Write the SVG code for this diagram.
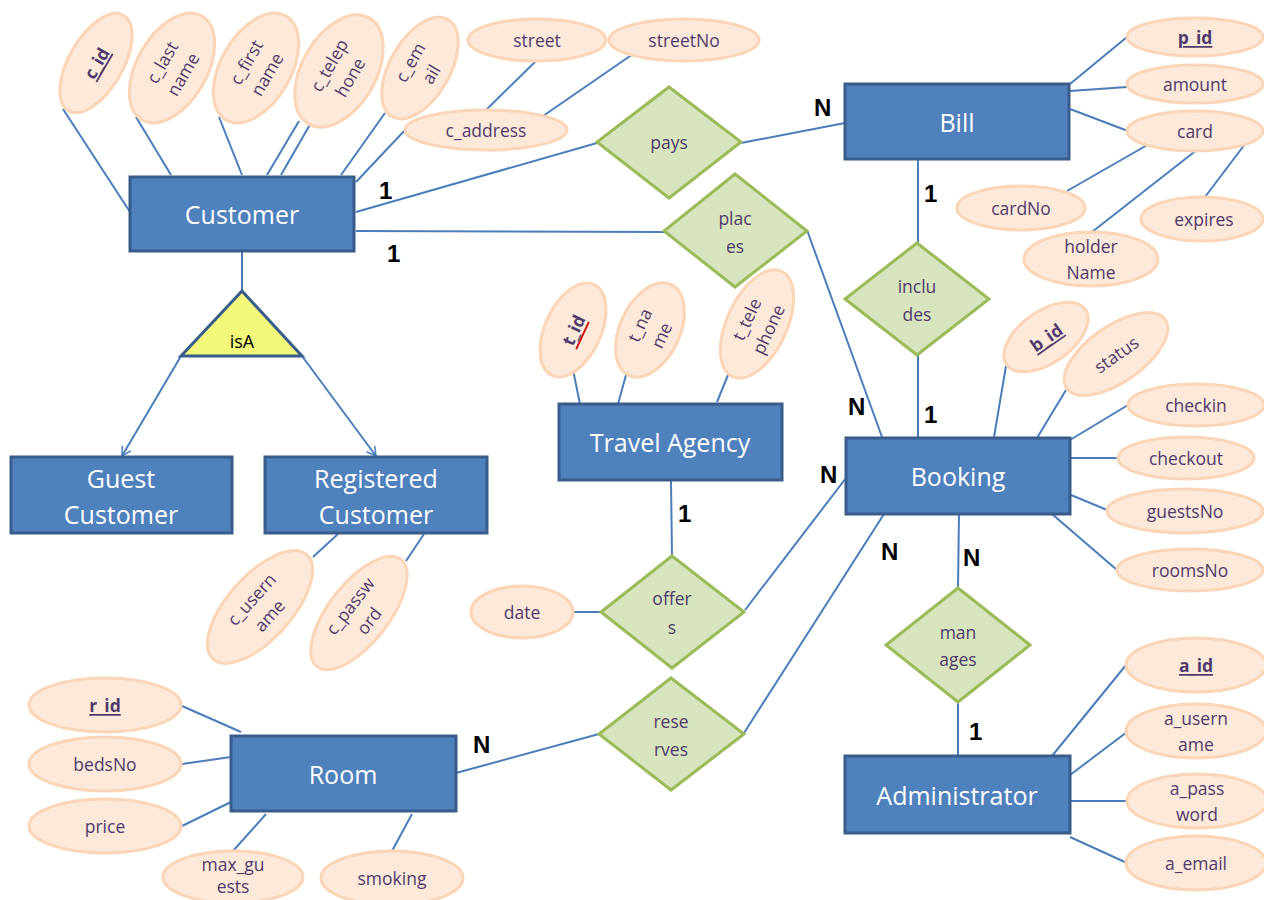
<svg xmlns="http://www.w3.org/2000/svg" width="1264" height="900" viewBox="0 0 1264 900">
<defs>
<style>
.ent{fill:#4F81BD;stroke:#385D8A;stroke-width:3}
.etx{fill:#fff;font-family:"Open Sans","Liberation Sans",sans-serif;font-size:25px;text-anchor:middle;dominant-baseline:central}
.rel{fill:#D7E4BD;stroke:#9BBB59;stroke-width:3}
.att{fill:#FDE9D9;stroke:#FBD5B5;stroke-width:3}
.atx{fill:#4F3B6B;font-family:"Open Sans","Liberation Sans",sans-serif;font-size:17.5px;text-anchor:middle;dominant-baseline:central}
.key{font-weight:bold;text-decoration:underline}
.ln{stroke:#4A7EBB;stroke-width:2;fill:none}
.card{fill:#000;font-family:"Liberation Sans",Arial,sans-serif;font-size:24px;font-weight:bold}
</style>
<marker id="arr" markerWidth="12" markerHeight="12" refX="10" refY="6" orient="auto" markerUnits="userSpaceOnUse">
<path d="M1,1 L10,6 L1,11" fill="none" stroke="#4A7EBB" stroke-width="1.5"/>
</marker>
</defs>
<rect width="1264" height="900" fill="#fff"/>

<g id="connectors">
<line class="ln" x1="63" y1="109" x2="130" y2="212"/>
<line class="ln" x1="136" y1="117" x2="171" y2="175"/>
<line class="ln" x1="219" y1="117" x2="242" y2="175"/>
<line class="ln" x1="299" y1="121" x2="267" y2="175"/>
<line class="ln" x1="312" y1="121" x2="281" y2="175"/>
<line class="ln" x1="385" y1="113" x2="341" y2="175"/>
<line class="ln" x1="406" y1="129" x2="356" y2="182"/>
<line class="ln" x1="537" y1="60" x2="486" y2="110"/>
<line class="ln" x1="633" y1="54" x2="543" y2="116"/>
<line class="ln" x1="356" y1="212" x2="597" y2="143"/>
<line class="ln" x1="741" y1="143" x2="845" y2="123"/>
<line class="ln" x1="356" y1="231" x2="664" y2="232"/>
<line class="ln" x1="807" y1="230" x2="882" y2="437"/>
<line class="ln" x1="918" y1="160" x2="918" y2="243"/>
<line class="ln" x1="918" y1="355" x2="918" y2="437"/>
<line class="ln" x1="242" y1="251" x2="242" y2="291"/>
<line class="ln" x1="181" y1="356" x2="122" y2="456" marker-end="url(#arr)"/>
<line class="ln" x1="302" y1="356" x2="376" y2="456" marker-end="url(#arr)"/>
<line class="ln" x1="338" y1="534" x2="313" y2="557"/>
<line class="ln" x1="424" y1="534" x2="406" y2="561"/>
<line class="ln" x1="573" y1="370" x2="580" y2="404"/>
<line class="ln" x1="626" y1="375" x2="618" y2="404"/>
<line class="ln" x1="728" y1="375" x2="717" y2="402"/>
<line class="ln" x1="671" y1="481" x2="672" y2="556"/>
<line class="ln" x1="573" y1="612" x2="601" y2="612"/>
<line class="ln" x1="745" y1="610" x2="846" y2="478"/>
<line class="ln" x1="744" y1="733" x2="884" y2="514"/>
<line class="ln" x1="456" y1="773" x2="599" y2="734"/>
<line class="ln" x1="959" y1="514" x2="958" y2="588"/>
<line class="ln" x1="958" y1="702" x2="958" y2="756"/>
<line class="ln" x1="1070" y1="84" x2="1127" y2="37"/>
<line class="ln" x1="1070" y1="91" x2="1127" y2="87"/>
<line class="ln" x1="1070" y1="109" x2="1128" y2="131"/>
<line class="ln" x1="1149" y1="144" x2="1067" y2="191"/>
<line class="ln" x1="1198" y1="149" x2="1092" y2="232"/>
<line class="ln" x1="1245" y1="144" x2="1205" y2="197"/>
<line class="ln" x1="1006" y1="366" x2="994" y2="437"/>
<line class="ln" x1="1066" y1="390" x2="1037" y2="438"/>
<line class="ln" x1="1128" y1="405" x2="1070" y2="440"/>
<line class="ln" x1="1117" y1="458" x2="1071" y2="458"/>
<line class="ln" x1="1107" y1="510" x2="1071" y2="495"/>
<line class="ln" x1="1117" y1="570" x2="1052" y2="514"/>
<line class="ln" x1="182" y1="706" x2="241" y2="732"/>
<line class="ln" x1="182" y1="764" x2="231" y2="757"/>
<line class="ln" x1="182" y1="826" x2="231" y2="802"/>
<line class="ln" x1="233" y1="851" x2="266" y2="814"/>
<line class="ln" x1="392" y1="851" x2="412" y2="814"/>
<line class="ln" x1="1052" y1="756" x2="1126" y2="665"/>
<line class="ln" x1="1070" y1="775" x2="1127" y2="732"/>
<line class="ln" x1="1070" y1="801" x2="1128" y2="801"/>
<line class="ln" x1="1070" y1="837" x2="1127" y2="863"/>
</g>

<g id="cardinalities">
<text class="card" x="379" y="199">1</text>
<text class="card" x="387" y="262">1</text>
<text class="card" x="814" y="116">N</text>
<text class="card" x="924" y="202">1</text>
<text class="card" x="924" y="423">1</text>
<text class="card" x="848" y="415">N</text>
<text class="card" x="820" y="483">N</text>
<text class="card" x="678" y="522">1</text>
<text class="card" x="881" y="560">N</text>
<text class="card" x="963" y="566">N</text>
<text class="card" x="473" y="753">N</text>
<text class="card" x="969" y="740">1</text>
</g>

<g id="customer"><rect class="ent" x="130" y="177" width="224" height="74"/><text class="etx" x="242" y="214">Customer</text></g>
<g id="bill"><rect class="ent" x="845" y="84" width="224" height="75"/><text class="etx" x="957" y="122">Bill</text></g>
<g id="guest-customer"><rect class="ent" x="11" y="457" width="221" height="76"/><text class="etx" x="121" y="478">Guest</text><text class="etx" x="121" y="514">Customer</text></g>
<g id="registered-customer"><rect class="ent" x="265" y="457" width="222" height="76"/><text class="etx" x="376" y="478">Registered</text><text class="etx" x="376" y="514">Customer</text></g>
<g id="travel-agency"><rect class="ent" x="559" y="404" width="223" height="76"/><text class="etx" x="670" y="442">Travel Agency</text></g>
<g id="booking"><rect class="ent" x="846" y="438" width="224" height="76"/><text class="etx" x="958" y="476">Booking</text></g>
<g id="room"><rect class="ent" x="231" y="736" width="225" height="75"/><text class="etx" x="343" y="774">Room</text></g>
<g id="administrator"><rect class="ent" x="845" y="756" width="225" height="77"/><text class="etx" x="957" y="795">Administrator</text></g>

<g id="isA"><polygon points="242,291 302,356 181,356" fill="#F2F97A" stroke="#385D8A" stroke-width="3"/><text x="242" y="341" font-family="Open Sans, Liberation Sans, sans-serif" font-size="18" text-anchor="middle" dominant-baseline="central" fill="#000">isA</text></g>

<g id="pays"><polygon class="rel" points="669,87 741,142 669,198 597,142"/><text class="atx" x="669" y="142">pays</text></g>
<g id="places"><polygon class="rel" points="735,174 807,231 735,287 664,231"/><text class="atx" x="735" y="218">plac</text><text class="atx" x="735" y="246">es</text></g>
<g id="includes"><polygon class="rel" points="917,243 989,299 917,355 845,299"/><text class="atx" x="917" y="286">inclu</text><text class="atx" x="917" y="314">des</text></g>
<g id="offers"><polygon class="rel" points="672,556 744,612 672,668 601,612"/><text class="atx" x="672" y="598">offer</text><text class="atx" x="672" y="627">s</text></g>
<g id="reserves"><polygon class="rel" points="671,678 744,734 671,790 599,734"/><text class="atx" x="671" y="721">rese</text><text class="atx" x="671" y="749">rves</text></g>
<g id="manages"><polygon class="rel" points="958,588 1030,645 958,702 886,645"/><text class="atx" x="958" y="632">man</text><text class="atx" x="958" y="659">ages</text></g>

<g id="c_id" transform="translate(96,63) rotate(-60)"><ellipse class="att" rx="55" ry="27"/><text class="atx key" y="0">c_id</text></g>
<g id="c_lastname" transform="translate(172,68) rotate(-60)"><ellipse class="att" rx="60" ry="35"/><text class="atx" y="-12">c_last</text><text class="atx" y="12">name</text></g>
<g id="c_firstname" transform="translate(256,68) rotate(-60)"><ellipse class="att" rx="60" ry="35"/><text class="atx" y="-12">c_first</text><text class="atx" y="12">name</text></g>
<g id="c_telephone" transform="translate(339,71) rotate(-60)"><ellipse class="att" rx="61" ry="37"/><text class="atx" y="-12">c_telep</text><text class="atx" y="12">hone</text></g>
<g id="c_email" transform="translate(420,68) rotate(-60)"><ellipse class="att" rx="56" ry="30"/><text class="atx" y="-12">c_em</text><text class="atx" y="12">ail</text></g>
<g id="c_address"><ellipse class="att" cx="486" cy="130" rx="81" ry="20"/><text class="atx" x="486" y="130">c_address</text></g>
<g id="street"><ellipse class="att" cx="537" cy="40" rx="69" ry="21"/><text class="atx" x="537" y="40">street</text></g>
<g id="streetNo"><ellipse class="att" cx="684" cy="40" rx="75" ry="21"/><text class="atx" x="684" y="40">streetNo</text></g>

<g id="p_id"><ellipse class="att" cx="1195" cy="37" rx="68" ry="19"/><text class="atx key" x="1195" y="37">p_id</text></g>
<g id="amount"><ellipse class="att" cx="1195" cy="84" rx="68" ry="19"/><text class="atx" x="1195" y="84">amount</text></g>
<g id="card"><ellipse class="att" cx="1195" cy="131" rx="68" ry="20"/><text class="atx" x="1195" y="131">card</text></g>
<g id="cardNo"><ellipse class="att" cx="1021" cy="208" rx="64" ry="22"/><text class="atx" x="1021" y="208">cardNo</text></g>
<g id="holderName"><ellipse class="att" cx="1091" cy="259" rx="67" ry="27"/><text class="atx" x="1091" y="246">holder</text><text class="atx" x="1091" y="272">Name</text></g>
<g id="expires"><ellipse class="att" cx="1202" cy="219" rx="61" ry="22"/><text class="atx" x="1204" y="219">expires</text></g>

<g id="t_id" transform="translate(573,330) rotate(-65)"><ellipse class="att" rx="50" ry="28"/><text class="atx" font-weight="bold" y="0">t_id</text><line x1="-16" y1="11" x2="14" y2="11" stroke="#D00000" stroke-width="1.8"/></g>
<g id="t_name" transform="translate(650,330) rotate(-65)"><ellipse class="att" rx="50" ry="30"/><text class="atx" y="-12">t_na</text><text class="atx" y="12">me</text></g>
<g id="t_telephone" transform="translate(757,324) rotate(-65)"><ellipse class="att" rx="58" ry="30"/><text class="atx" y="-12">t_tele</text><text class="atx" y="12">phone</text></g>
<g id="date"><ellipse class="att" cx="522" cy="612" rx="51" ry="26"/><text class="atx" x="522" y="612">date</text></g>

<g id="c_username" transform="translate(260,607) rotate(-48)"><ellipse class="att" rx="70" ry="32"/><text class="atx" y="-12">c_usern</text><text class="atx" y="12">ame</text></g>
<g id="c_password" transform="translate(359,613) rotate(-52)"><ellipse class="att" rx="68" ry="30"/><text class="atx" y="-12">c_passw</text><text class="atx" y="12">ord</text></g>

<g id="b_id" transform="translate(1046,337) rotate(-35)"><ellipse class="att" rx="48" ry="26"/><text class="atx key" y="0">b_id</text></g>
<g id="status" transform="translate(1116,354) rotate(-35)"><ellipse class="att" rx="60" ry="28"/><text class="atx" y="0">status</text></g>
<g id="checkin"><ellipse class="att" cx="1196" cy="405" rx="68" ry="21"/><text class="atx" x="1196" y="405">checkin</text></g>
<g id="checkout"><ellipse class="att" cx="1186" cy="458" rx="68" ry="21"/><text class="atx" x="1186" y="458">checkout</text></g>
<g id="guestsNo"><ellipse class="att" cx="1185" cy="511" rx="78" ry="22"/><text class="atx" x="1185" y="511">guestsNo</text></g>
<g id="roomsNo"><ellipse class="att" cx="1190" cy="570" rx="73" ry="21"/><text class="atx" x="1190" y="570">roomsNo</text></g>

<g id="r_id"><ellipse class="att" cx="105" cy="705" rx="76" ry="27"/><text class="atx key" x="105" y="705">r_id</text></g>
<g id="bedsNo"><ellipse class="att" cx="105" cy="764" rx="76" ry="27"/><text class="atx" x="105" y="764">bedsNo</text></g>
<g id="price"><ellipse class="att" cx="105" cy="826" rx="76" ry="27"/><text class="atx" x="105" y="826">price</text></g>
<g id="max_guests"><ellipse class="att" cx="233" cy="877" rx="70" ry="26"/><text class="atx" x="233" y="864">max_gu</text><text class="atx" x="233" y="886">ests</text></g>
<g id="smoking"><ellipse class="att" cx="392" cy="878" rx="71" ry="27"/><text class="atx" x="392" y="878">smoking</text></g>

<g id="a_id"><ellipse class="att" cx="1196" cy="665" rx="70" ry="27"/><text class="atx key" x="1196" y="665">a_id</text></g>
<g id="a_username"><ellipse class="att" cx="1196" cy="731" rx="70" ry="27"/><text class="atx" x="1196" y="718">a_usern</text><text class="atx" x="1196" y="744">ame</text></g>
<g id="a_password"><ellipse class="att" cx="1197" cy="801" rx="70" ry="27"/><text class="atx" x="1197" y="788">a_pass</text><text class="atx" x="1197" y="814">word</text></g>
<g id="a_email"><ellipse class="att" cx="1196" cy="863" rx="70" ry="27"/><text class="atx" x="1196" y="863">a_email</text></g>
</svg>
